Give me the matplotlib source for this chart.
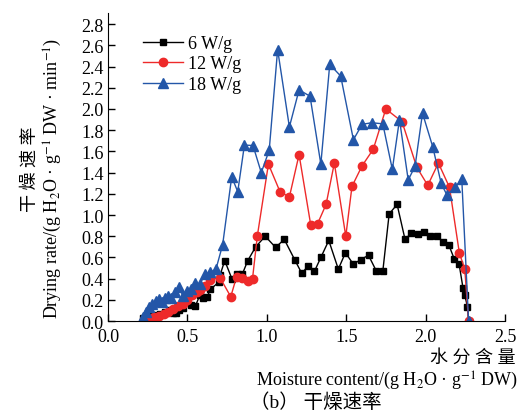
import matplotlib
matplotlib.use("Agg")
import matplotlib.pyplot as plt

plt.rcParams["font.family"] = ["Liberation Serif", "Noto Sans CJK SC"]
plt.rcParams["mathtext.fontset"] = "stix"

# 6 W/g
x6 = [0.22, 0.25, 0.28, 0.30, 0.33, 0.36, 0.39, 0.41, 0.43, 0.45, 0.47, 0.50,
      0.52, 0.55, 0.58, 0.60, 0.625, 0.645, 0.70, 0.705, 0.735, 0.78, 0.81,
      0.845, 0.88, 0.93, 0.99, 1.055, 1.11, 1.175, 1.22, 1.26, 1.30, 1.34,
      1.39, 1.45, 1.495, 1.545, 1.59, 1.64, 1.69, 1.73, 1.77, 1.82, 1.87,
      1.91, 1.95, 1.99, 2.03, 2.07, 2.11, 2.145, 2.18, 2.21, 2.235, 2.245,
      2.263, 2.27]
y6 = [0.03, 0.04, 0.05, 0.06, 0.07, 0.09, 0.10, 0.08, 0.08, 0.10, 0.12, 0.20,
      0.15, 0.14, 0.25, 0.22, 0.23, 0.30, 0.37, 0.43, 0.57, 0.40, 0.44,
      0.44, 0.57, 0.70, 0.80, 0.695, 0.77, 0.58, 0.45, 0.52, 0.47, 0.60,
      0.76, 0.49, 0.645, 0.535, 0.58, 0.62, 0.47, 0.47, 1.01, 1.10, 0.77,
      0.83, 0.82, 0.84, 0.80, 0.80, 0.75, 0.72, 0.585, 0.54, 0.31, 0.25,
      0.135, 0.0]

# 12 W/g
x12 = [0.23, 0.26, 0.29, 0.32, 0.35, 0.38, 0.41, 0.44, 0.47, 0.50, 0.53, 0.56,
       0.58, 0.61, 0.645, 0.705, 0.773, 0.81, 0.842, 0.884, 0.91, 0.94, 1.01,
       1.083, 1.142, 1.203, 1.276, 1.32, 1.373, 1.425, 1.497, 1.536, 1.60,
       1.67, 1.749, 1.851, 1.944, 2.013, 2.08, 2.15, 2.212, 2.246, 2.27]
y12 = [0.01, 0.02, 0.04, 0.05, 0.07, 0.09, 0.11, 0.14, 0.16, 0.20, 0.25, 0.27,
       0.29, 0.33, 0.39, 0.41, 0.23, 0.42, 0.41, 0.38, 0.40, 0.80, 1.48,
       1.22, 1.17, 1.57, 0.91, 0.92, 1.10, 1.49, 0.80, 1.27, 1.465,
       1.62, 2.0, 1.88, 1.45, 1.28, 1.49, 1.26, 0.64, 0.49, 0.0]

# 18 W/g
x18 = [0.22, 0.24, 0.26, 0.28, 0.30, 0.32, 0.34, 0.36, 0.38, 0.40, 0.42, 0.45,
       0.47, 0.50, 0.52, 0.55, 0.58, 0.61, 0.645, 0.68, 0.722, 0.779, 0.817,
       0.859, 0.913, 0.965, 1.015, 1.068, 1.142, 1.203, 1.272, 1.34, 1.396,
       1.465, 1.545, 1.60, 1.66, 1.73, 1.79, 1.835, 1.89, 1.933, 1.98, 2.045,
       2.097, 2.133, 2.185, 2.227, 2.27]
y18 = [0.04, 0.09, 0.13, 0.16, 0.19, 0.21, 0.18, 0.22, 0.24, 0.22, 0.27, 0.32,
       0.24, 0.28, 0.30, 0.36, 0.35, 0.44, 0.46, 0.49, 0.72, 1.36, 1.22,
       1.66, 1.655, 1.40, 1.61, 2.56, 1.83, 2.18, 2.12, 1.48, 2.42,
       2.31, 1.71, 1.855, 1.87, 1.86, 1.43, 1.90, 1.33, 1.46, 1.96, 1.64,
       1.30, 1.19, 1.26, 1.34, 0.0]

x_ticks = [0.0, 0.5, 1.0, 1.5, 2.0, 2.5]
y_ticks = [0.0, 0.2, 0.4, 0.6, 0.8, 1.0, 1.2, 1.4, 1.6, 1.8, 2.0, 2.2, 2.4, 2.6, 2.8]

fig = plt.figure(figsize=(5.24, 4.14), dpi=100)
ax = fig.add_axes([0.206, 0.222, 0.758, 0.743])

ax.plot(x6, y6, color="black", lw=1, marker="s", ms=5, label="6 W/g")
ax.plot(x12, y12, color="#ee2a2a", lw=1, marker="o", ms=6, label="12 W/g")
ax.plot(x18, y18, color="#2356a8", lw=1, marker="^", ms=7, label="18 W/g")

ax.set_xlim(0, 2.5)
ax.set_ylim(0, 2.9)
ax.set_xticks(x_ticks)
ax.set_xticklabels([f"{v:.1f}" for v in x_ticks])
ax.set_yticks(y_ticks)
ax.set_yticklabels([f"{v:.1f}" for v in y_ticks])
ax.tick_params(direction="in", length=5, width=1, labelsize=13)
ax.tick_params(axis="x", pad=5)
ax.tick_params(axis="y", pad=3)
ax.spines["top"].set_visible(False)
ax.spines["right"].set_visible(False)

ax.legend(loc="upper left", bbox_to_anchor=(0.065, 0.96), frameon=False,
          fontsize=13, handlelength=2.2, handletextpad=0.3, labelspacing=0.2,
          borderpad=0)

fig.text(0.057, 0.59, "干 燥 速 率", rotation=90, ha="center", va="center",
         fontsize=13, fontweight="light")
fig.text(0.1, 0.57,
         "Drying rate/(g H$_2$O \u00b7 g$^{-1}$ DW \u00b7 min$^{-1}$)",
         rotation=90, ha="center", va="center", fontsize=13)
fig.text(0.983, 0.135, "水 分 含 量", ha="right", va="center", fontsize=13,
         fontweight="light")
fig.text(0.988, 0.08,
         "Moisture content/(g H$_2$O \u00b7 g$^{-1}$ DW)",
         ha="right", va="center", fontsize=13)
fig.text(0.478, 0.027, "（b） 干燥速率", ha="left", va="center", fontsize=14,
         fontweight="light")

fig.savefig("out.png", dpi=100)
